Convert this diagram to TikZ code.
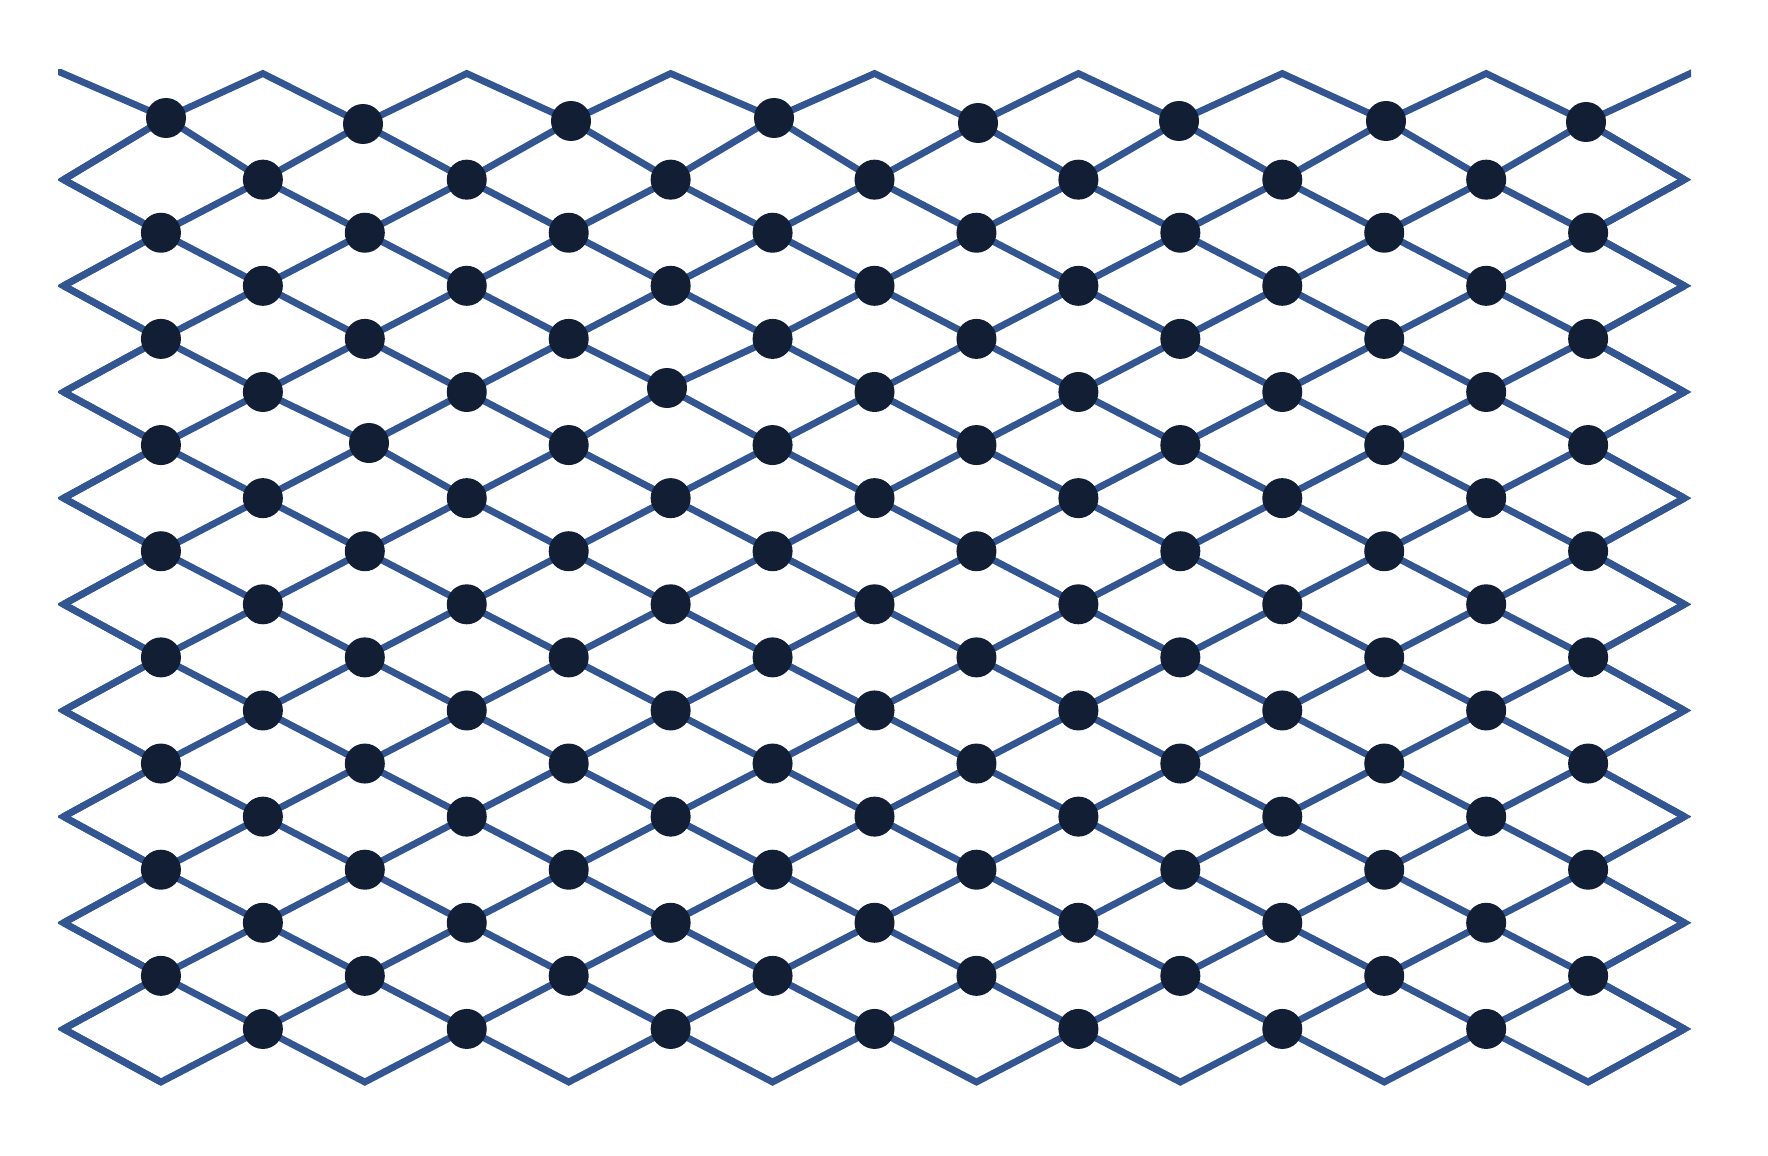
\documentclass[tikz,border=0pt]{standalone}
\definecolor{lineblue}{RGB}{51,86,146}
\definecolor{dotnavy}{RGB}{18,30,52}
\begin{document}
\begin{tikzpicture}[x=0.5pt,y=-0.5pt,
  ln/.style={draw=lineblue,line width=3.4pt,line join=miter},
  dot/.style={circle,fill=dotnavy,draw=none,inner sep=0pt,minimum size=20pt}]
\useasboundingbox (0,0) rectangle (1768,1156);
% regular lattice of points
\foreach \k in {0,...,16}{
  \foreach \r in {0,...,19}{
    \pgfmathtruncatemacro{\pp}{mod(\k+\r,2)}
    \ifnum\pp=0
      \coordinate (p-\k-\r) at ({59+101.94*\k},{73.5+53.08*\r});
    \fi
  }
}
% boundary vertices
\foreach \r in {2,4,...,18}{
  \coordinate (p-0-\r) at (63.5,{73.5+53.08*\r});
  \coordinate (p-16-\r) at (1684.5,{73.5+53.08*\r});
}
\coordinate (p-0-0) at (48,67);
\coordinate (p-16-0) at (1702,68);
% first row of dots
\coordinate (p-1-1) at (166,118);
\coordinate (p-3-1) at (363,124);
\coordinate (p-5-1) at (571,121);
\coordinate (p-7-1) at (774,118);
\coordinate (p-9-1) at (978,123);
\coordinate (p-11-1) at (1179,121);
\coordinate (p-13-1) at (1386,121);
\coordinate (p-15-1) at (1586,122);
\coordinate (p-3-7) at (369,443);
\coordinate (p-6-6) at (667,388);
% lines
\begin{scope}
\clip (58,70) rectangle (1691,1086);
\foreach \r [evaluate=\r as \rs using {int(\r+mod(\r,2))}] in {0,...,18}{
  \draw[ln] (p-0-\rs) \foreach \k [evaluate=\k as \rr using {int(\r+mod(\k+\r,2))}] in {1,...,16}{ -- (p-\k-\rr)};
}
\foreach \r [evaluate=\r as \rm using {int(\r-1)}, evaluate=\r as \rp using {int(\r+1)}] in {2,4,...,18}{
  \draw[ln] (p-1-\rm) -- (p-0-\r) -- (p-1-\rp);
  \draw[ln] (p-15-\rm) -- (p-16-\r) -- (p-15-\rp);
}
\end{scope}
% dots
\foreach \k in {1,...,15}{
  \foreach \r in {1,...,18}{
    \pgfmathtruncatemacro{\pp}{mod(\k+\r,2)}
    \ifnum\pp=0
      \node[dot] (d-\k-\r) at (p-\k-\r) {};
    \fi
  }
}
\end{tikzpicture}
\end{document}
